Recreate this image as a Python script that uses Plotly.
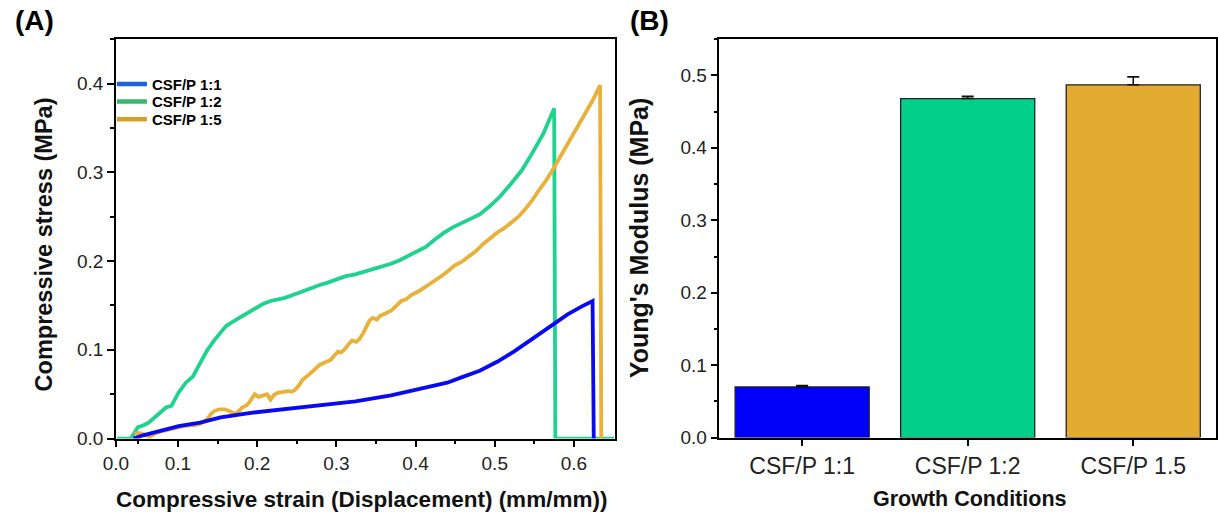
import plotly.graph_objects as go

# ---------------- Panel A: compressive stress-strain curves ----------------
strain_11 = [0.0440, 0.056, 0.079, 0.101, 0.128, 0.154, 0.190, 0.235, 0.279, 0.324,
             0.369, 0.413, 0.440, 0.458, 0.481, 0.503, 0.525, 0.547, 0.570, 0.592,
             0.610, 0.6235, 0.6250]
stress_11 = [0.000, 0.0037, 0.009, 0.014, 0.018, 0.024, 0.0288, 0.033, 0.0376, 0.042,
             0.0487, 0.057, 0.063, 0.069, 0.0765, 0.0865, 0.0985, 0.112, 0.126, 0.140,
             0.149, 0.155, 0.000]

strain_12 = [0.0228, 0.0406, 0.0496, 0.056, 0.063, 0.074, 0.080, 0.085, 0.092, 0.101,
             0.110, 0.119, 0.128, 0.137, 0.146, 0.154, 0.161, 0.168, 0.177, 0.186,
             0.199, 0.208, 0.217, 0.235, 0.246, 0.257, 0.268, 0.279, 0.290, 0.300,
             0.312, 0.324, 0.335, 0.346, 0.358, 0.369, 0.380, 0.391, 0.402, 0.413,
             0.424, 0.436, 0.447, 0.458, 0.470, 0.481, 0.494, 0.507, 0.521, 0.534,
             0.547, 0.561, 0.5750, 0.5765, 0.6512]
stress_12 = [0.000, 0.000, 0.013, 0.0147, 0.018, 0.026, 0.031, 0.035, 0.037, 0.052,
             0.063, 0.070, 0.085, 0.0995, 0.111, 0.120, 0.127, 0.131, 0.136, 0.140,
             0.147, 0.152, 0.155, 0.1585, 0.162, 0.166, 0.169, 0.173, 0.176, 0.179,
             0.183, 0.185, 0.188, 0.190, 0.194, 0.197, 0.201, 0.206, 0.211, 0.216,
             0.224, 0.232, 0.238, 0.243, 0.248, 0.2525, 0.262, 0.273, 0.2876, 0.302,
             0.321, 0.343, 0.372, 0.000, 0.000]

strain_15 = [0.045, 0.052, 0.058, 0.064, 0.070, 0.075, 0.083, 0.092, 0.101, 0.110,
             0.119, 0.128, 0.133, 0.137, 0.142, 0.146, 0.152, 0.159, 0.165, 0.172,
             0.177, 0.181, 0.186, 0.190, 0.194, 0.197, 0.202, 0.206, 0.2125, 0.217,
             0.221, 0.226, 0.233, 0.239, 0.244, 0.248, 0.253, 0.257, 0.264, 0.271,
             0.275, 0.279, 0.286, 0.293, 0.297, 0.302, 0.306, 0.311, 0.316, 0.320,
             0.325, 0.329, 0.334, 0.338, 0.342, 0.346, 0.351, 0.355, 0.362, 0.369,
             0.375, 0.382, 0.388, 0.395, 0.404, 0.413, 0.422, 0.431, 0.440, 0.449,
             0.458, 0.467, 0.476, 0.485, 0.494, 0.503, 0.512, 0.521, 0.530, 0.538,
             0.547, 0.556, 0.565, 0.574, 0.583, 0.592, 0.601, 0.610, 0.617, 0.623,
             0.6330, 0.6345]
stress_15 = [0.0055, 0.0060, 0.0045, 0.002, 0.0050, 0.0074, 0.0090, 0.011, 0.0130, 0.0147,
             0.0150, 0.0166, 0.0190, 0.022, 0.028, 0.031, 0.033, 0.033, 0.031, 0.0276,
             0.031, 0.035, 0.037, 0.0405, 0.046, 0.050, 0.047, 0.048, 0.050, 0.044,
             0.049, 0.0516, 0.053, 0.0535, 0.053, 0.055, 0.060, 0.066, 0.071, 0.077,
             0.080, 0.083, 0.086, 0.0885, 0.093, 0.098, 0.097, 0.101, 0.107, 0.1106,
             0.109, 0.112, 0.119, 0.125, 0.133, 0.136, 0.134, 0.138, 0.141, 0.144,
             0.149, 0.155, 0.157, 0.162, 0.166, 0.171, 0.176, 0.182, 0.188, 0.195,
             0.199, 0.2046, 0.211, 0.219, 0.226, 0.232, 0.237, 0.243, 0.250, 0.258,
             0.268, 0.280, 0.291, 0.304, 0.318, 0.332, 0.345, 0.358, 0.369, 0.380,
             0.398, 0.000]

curve_names = ["CSF/P 1:1", "CSF/P 1:2", "CSF/P 1:5"]
curve_colors = ["#0A0AF0", "#1ED38E", "#E8B13A"]
legend_colors = ["#1F62DA", "#3BB56F", "#D6A024"]

strain_ticks = [0.0217, 0.1, 0.2, 0.3, 0.4, 0.5, 0.6]
strain_tick_text = ["0.0", "0.1", "0.2", "0.3", "0.4", "0.5", "0.6"]
strain_minor = [0.05, 0.15, 0.25, 0.35, 0.45, 0.55]

# ---------------- Panel B: Young's modulus bars ----------------
conditions = ["CSF/P 1:1", "CSF/P 1:2", "CSF/P 1.5"]
modulus = [0.070, 0.468, 0.487]
modulus_err = [0.002, 0.003, 0.011]
bar_colors = ["#0000FA", "#00D08A", "#E3AC30"]

W, H = 1218, 524
FONT = "Arial, Liberation Sans, sans-serif"


def px_x(p):
    return p / W


def px_y(p):
    return 1 - p / H


fig = go.Figure()

series = [(strain_11, stress_11), (strain_12, stress_12), (strain_15, stress_15)]
# draw order: green, orange, blue on top
for i in [1, 2, 0]:
    xs, ys = series[i]
    fig.add_trace(go.Scatter(
        x=xs, y=ys, mode="lines", name=curve_names[i], showlegend=False,
        line=dict(color=curve_colors[i], width=3.8),
        xaxis="x", yaxis="y",
    ))

# one key per legend box so the rows sit close together
legend_ids = ["legend", "legend2", "legend3"]
for i in range(3):
    fig.add_trace(go.Scatter(
        x=[None], y=[None], mode="lines", name=curve_names[i],
        line=dict(color=legend_colors[i], width=4.5),
        xaxis="x", yaxis="y", legend=legend_ids[i],
    ))

fig.add_trace(go.Bar(
    x=conditions, y=modulus, width=0.81,
    marker=dict(color=bar_colors, line=dict(color="#222222", width=1.3)),
    error_y=dict(type="data", symmetric=False, array=modulus_err,
                 arrayminus=[0, 0, 0], color="#111111", thickness=1.6, width=6),
    showlegend=False, xaxis="x2", yaxis="y2",
))

axis_common = dict(
    showline=True, linecolor="black", linewidth=1.5, mirror=True,
    showgrid=False, zeroline=False, ticks="outside", ticklen=7, tickwidth=1.5,
    tickcolor="black", tickfont=dict(family=FONT, size=19, color="#222222"),
)
minor_common = dict(ticks="outside", ticklen=4, tickwidth=1.5, tickcolor="black")

legend_rows = [86, 104, 122]
legend_boxes = {}
for lid, row in zip(legend_ids, legend_rows):
    legend_boxes[lid] = dict(
        x=px_x(100), y=px_y(row), xanchor="left", yanchor="middle",
        bgcolor="rgba(0,0,0,0)", borderwidth=0, itemwidth=30,
        font=dict(family=FONT, size=15, color="black", weight="bold"),
    )

fig.update_layout(
    width=W, height=H,
    margin=dict(l=0, r=0, t=0, b=0),
    paper_bgcolor="white", plot_bgcolor="white",
    xaxis=dict(
        axis_common, domain=[px_x(104), px_x(608)], anchor="y",
        range=[0.0217, 0.6512], tickmode="array", tickvals=strain_ticks,
        ticktext=strain_tick_text, layer="below traces",
        minor=dict(minor_common, tickvals=strain_minor),
    ),
    yaxis=dict(
        axis_common, domain=[px_y(448), px_y(40)], anchor="x",
        range=[0, 0.45], tickmode="array", tickvals=[0, 0.1, 0.2, 0.3, 0.4],
        tickformat=".1f",
        minor=dict(minor_common, tickvals=[0.05, 0.15, 0.25, 0.35, 0.45]),
    ),
    xaxis2=dict(
        axis_common, domain=[px_x(714), px_x(1216)], anchor="y2",
        range=[-0.5, 2.5], tickfont=dict(family=FONT, size=23, color="#222222"),
    ),
    yaxis2=dict(
        axis_common, domain=[px_y(447), px_y(40)], anchor="x2",
        range=[0, 0.55], tickmode="array",
        tickvals=[0, 0.1, 0.2, 0.3, 0.4, 0.5], tickformat=".1f",
        minor=dict(minor_common, tickvals=[0.05, 0.15, 0.25, 0.35, 0.45, 0.55]),
    ),
    showlegend=True,
    **legend_boxes,
)

annotations = [
    dict(text="<b>(A)</b>", x=px_x(0), y=px_y(3), xanchor="left", yanchor="top",
         font=dict(family=FONT, size=28, color="black")),
    dict(text="<b>(B)</b>", x=px_x(622), y=px_y(3), xanchor="left", yanchor="top",
         font=dict(family=FONT, size=28, color="black")),
    dict(text="<b>Compressive stress (MPa)</b>", x=px_x(31), y=px_y(250),
         textangle=-90, xanchor="center", yanchor="middle",
         font=dict(family=FONT, size=23.5, color="#111111")),
    dict(text="<b>Compressive strain (Displacement) (mm/mm))</b>", x=px_x(352),
         y=px_y(510), xanchor="center", yanchor="middle",
         font=dict(family=FONT, size=22.5, color="#111111")),
    dict(text="<b>Young's Modulus (MPa)</b>", x=px_x(633), y=px_y(243),
         textangle=-90, xanchor="center", yanchor="middle",
         font=dict(family=FONT, size=25, color="#111111")),
    dict(text="<b>Growth Conditions</b>", x=px_x(967), y=px_y(510),
         xanchor="center", yanchor="middle",
         font=dict(family=FONT, size=21.5, color="#111111")),
]
for a in annotations:
    a.update(xref="paper", yref="paper", showarrow=False)
fig.update_layout(annotations=annotations)

fig.write_html("out.html")
